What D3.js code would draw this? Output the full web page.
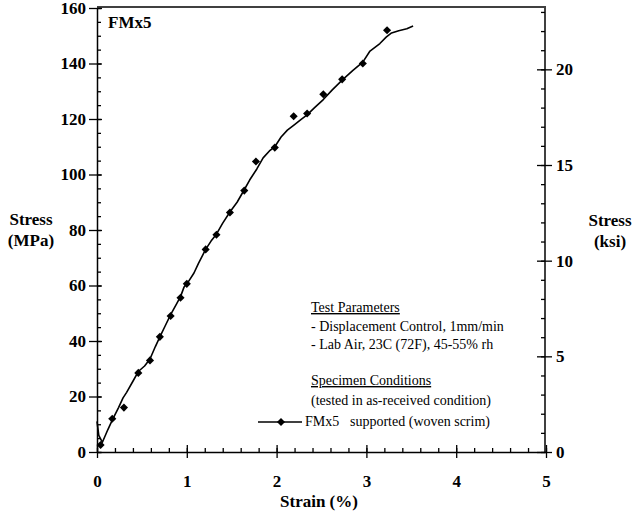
<!DOCTYPE html>
<html>
<head>
<meta charset="utf-8">
<script src="https://d3js.org/d3.v7.min.js"></script>
<style>
  body { margin: 0; background: #fff; }
  svg text { font-family: "Liberation Serif", "Times New Roman", serif; fill: #000; }
  .tick-label { font-size: 17px; font-weight: bold; }
  .axis-title { font-size: 17px; font-weight: bold; }
  .note { font-size: 14px; }
</style>
</head>
<body>
<div id="chart"></div>
<script>
// ======================================
// Data
// ======================================
// measured points (diamonds)
var pointStrain = [0.04, 0.17, 0.30, 0.46, 0.59, 0.70, 0.82, 0.93, 1.00, 1.21, 1.33, 1.48, 1.64, 1.77, 1.98, 2.19, 2.34, 2.52, 2.73, 2.96, 3.23];
var pointStress = [2.5, 12, 16, 28.5, 33, 41.5, 49, 55.6, 60.6, 73, 78.3, 86.3, 94.2, 104.7, 109.7, 121, 122, 128.9, 134.3, 140, 152];

// continuous test trace
var curveStrain = [0, 0.02, 0.06, 0.12, 0.17, 0.24, 0.29, 0.33, 0.40, 0.46, 0.53, 0.59, 0.65, 0.70, 0.76, 0.82, 0.88, 0.93, 0.97, 1.02, 1.08, 1.13, 1.21, 1.27, 1.33, 1.40, 1.48, 1.56, 1.64, 1.70, 1.78, 1.85, 1.92, 1.98, 2.05, 2.12, 2.20, 2.27, 2.34, 2.42, 2.52, 2.62, 2.73, 2.85, 2.96, 3.04, 3.15, 3.22, 3.28, 3.36, 3.45, 3.52];
var curveStress = [11, 6, 3.5, 8, 11.5, 16, 19.5, 21.5, 25.5, 29, 31, 33.5, 38, 41.5, 45.5, 49.5, 53, 56, 59.5, 61.5, 64.5, 68, 73, 76, 78.5, 82.5, 86.5, 90, 94.5, 98, 102, 106, 108.5, 110, 113.5, 116, 118, 119.8, 121.5, 124, 127, 130.5, 134, 137.5, 140.5, 144.5, 147.2, 149.5, 151, 151.8, 152.5, 153.5];

// tick values
var strainTicks = [0, 1, 2, 3, 4, 5];
var mpaTicks = [0, 20, 40, 60, 80, 100, 120, 140, 160];
var ksiTicks = [0, 5, 10, 15, 20];

var MPA_PER_KSI = 6.894757;

// ======================================
// Setup
// ======================================
var svgWidth = 634;
var svgHeight = 517;

var plot = { left: 97, right: 546, top: 8, bottom: 452 };

var svg = d3.select("#chart")
  .append("svg")
  .attr("width", svgWidth)
  .attr("height", svgHeight);

var xScale = d3.scaleLinear().domain([0, 5]).range([plot.left, plot.right]);
var yScale = d3.scaleLinear().domain([0, 160]).range([plot.bottom, plot.top]);
var ksiScale = d3.scaleLinear().domain([0, 160 / MPA_PER_KSI]).range([plot.bottom, plot.top]);

// helper: style an axis group like the scanned plot
function styleAxis(g) {
  g.select(".domain").attr("stroke", "#000").attr("stroke-width", 1.5);
  g.selectAll(".tick line").attr("stroke", "#000").attr("stroke-width", 1.3);
  g.selectAll(".tick text").attr("class", "tick-label").attr("fill", "#000");
  return g;
}

// ======================================
// Axes
// ======================================
// minor ticks first (no labels, inward)
svg.append("g")
  .attr("transform", `translate(0, ${plot.bottom})`)
  .call(d3.axisBottom(xScale).tickValues(d3.range(0, 5.01, 0.2)).tickSize(-4).tickFormat(""))
  .call(g => g.select(".domain").remove())
  .call(styleAxis);

svg.append("g")
  .attr("transform", `translate(${plot.left}, 0)`)
  .call(d3.axisLeft(yScale).tickValues(d3.range(0, 161, 5)).tickSize(-4).tickFormat(""))
  .call(g => g.select(".domain").remove())
  .call(styleAxis);

svg.append("g")
  .attr("transform", `translate(${plot.right - 1}, 0)`)
  .call(d3.axisRight(ksiScale).tickValues(d3.range(0, 23.1, 1)).tickSize(-4).tickFormat(""))
  .call(g => g.select(".domain").remove())
  .call(styleAxis);

// major ticks, crossing the axis line
var xAxis = svg.append("g")
  .attr("transform", `translate(0, ${plot.bottom})`)
  .call(d3.axisBottom(xScale).tickValues(strainTicks).tickSize(6).tickSizeOuter(0).tickFormat(d3.format("d")))
  .call(styleAxis);
xAxis.selectAll(".tick line").attr("y1", -7).attr("y2", 6);
xAxis.selectAll(".tick text").attr("y", 35).attr("dy", null);

var yAxis = svg.append("g")
  .attr("transform", `translate(${plot.left}, 0)`)
  .call(d3.axisLeft(yScale).tickValues(mpaTicks).tickSize(8).tickSizeOuter(0).tickPadding(3))
  .call(styleAxis);
yAxis.selectAll(".tick line").attr("x1", 5);

var ksiAxis = svg.append("g")
  .attr("transform", `translate(${plot.right - 1}, 0)`)
  .call(d3.axisRight(ksiScale).tickValues(ksiTicks).tickSize(7).tickSizeOuter(0).tickPadding(4))
  .call(styleAxis);
ksiAxis.selectAll(".tick line").attr("x1", -8);
ksiAxis.select(".domain").attr("d", `M0,${plot.top}V${plot.bottom}`);

// top frame line
svg.append("line")
  .attr("x1", plot.left).attr("x2", plot.right)
  .attr("y1", plot.top - 1).attr("y2", plot.top - 1)
  .attr("stroke", "#000").attr("stroke-width", 1.3);

// ======================================
// Axis titles
// ======================================
function twoLineTitle(x, y, lines) {
  var t = svg.append("text")
    .attr("class", "axis-title")
    .attr("text-anchor", "middle");
  lines.forEach((s, i) => {
    t.append("tspan").attr("x", x).attr("y", y + i * 21).text(s);
  });
}
twoLineTitle(31, 225, ["Stress", "(MPa)"]);
twoLineTitle(610, 226, ["Stress", "(ksi)"]);

svg.append("text")
  .attr("class", "axis-title")
  .attr("text-anchor", "middle")
  .attr("x", 319)
  .attr("y", 507)
  .text("Strain (%)");

svg.append("text")
  .attr("class", "axis-title")
  .attr("x", 108)
  .attr("y", 28)
  .text("FMx5");

// ======================================
// Data marks
// ======================================
var curveData = curveStrain.map((s, i) => ({ strain: s, stress: curveStress[i] }));
var pointData = pointStrain.map((s, i) => ({ strain: s, stress: pointStress[i] }));

var line = d3.line()
  .x(d => xScale(d.strain))
  .y(d => yScale(d.stress));

svg.append("path")
  .datum(curveData)
  .attr("d", line)
  .attr("fill", "none")
  .attr("stroke", "#000")
  .attr("stroke-width", 1.6)
  .attr("stroke-linejoin", "round");

var diamond = d3.symbol().type(d3.symbolDiamond2).size(42);

svg.selectAll(".pt")
  .data(pointData)
  .enter()
  .append("path")
  .attr("class", "pt")
  .attr("d", diamond)
  .attr("transform", d => `translate(${xScale(d.strain)}, ${yScale(d.stress)})`)
  .attr("fill", "#000");

// ======================================
// Annotation block + legend
// ======================================
var notes = [
  { text: "Test Parameters", y: 312, underline: true },
  { text: "- Displacement Control, 1mm/min", y: 331 },
  { text: "- Lab Air, 23C (72F), 45-55% rh", y: 349 },
  { text: "Specimen Conditions", y: 385, underline: true },
  { text: "(tested in as-received condition)", y: 405 }
];

svg.selectAll(".note")
  .data(notes)
  .enter()
  .append("text")
  .attr("class", "note")
  .attr("x", 311)
  .attr("y", d => d.y)
  .attr("text-decoration", d => d.underline ? "underline" : null)
  .text(d => d.text);

var legend = svg.append("g").attr("transform", "translate(258, 422)");
legend.append("line")
  .attr("x1", 0).attr("x2", 44)
  .attr("stroke", "#000").attr("stroke-width", 1.4);
legend.append("path")
  .attr("d", diamond)
  .attr("transform", "translate(23, 0)");
legend.append("text").attr("class", "note").attr("x", 47).attr("y", 4).text("FMx5");
legend.append("text").attr("class", "note").attr("x", 92).attr("y", 4).text("supported (woven scrim)");
</script>
</body>
</html>
